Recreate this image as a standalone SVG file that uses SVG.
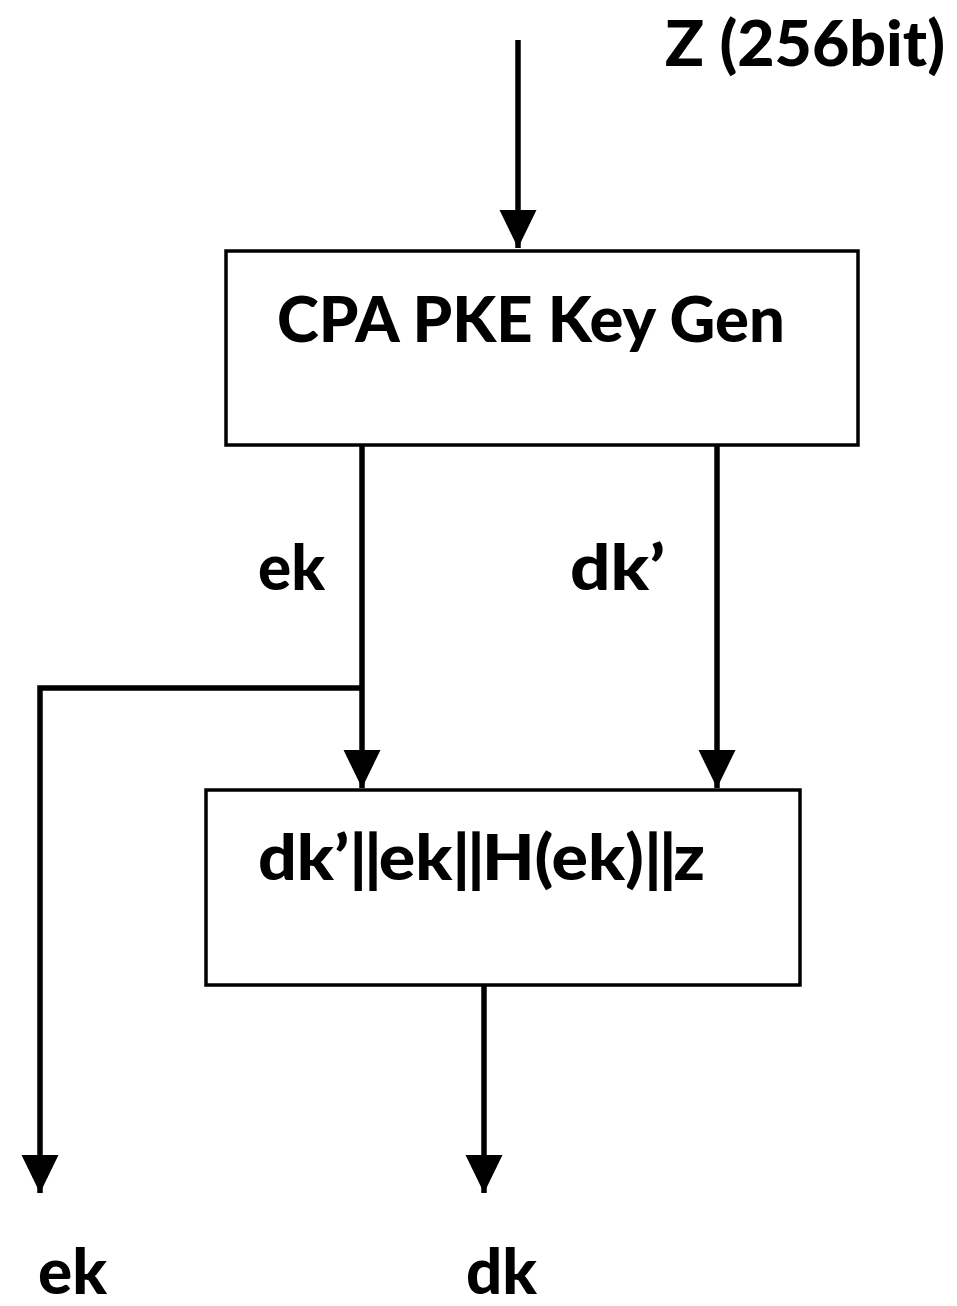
<svg xmlns="http://www.w3.org/2000/svg" width="957" height="1306" viewBox="0 0 957 1306">
<style>
.t{font-family:Lato,"Open Sans","Liberation Sans",sans-serif;font-weight:900;font-size:62px;fill:#000}
.box{fill:#fff;stroke:#000;stroke-width:3.5}
.ln{stroke:#000;stroke-width:5.5;fill:none}
</style>
<defs>
<marker id="ah" markerUnits="userSpaceOnUse" markerWidth="40" markerHeight="40" refX="38" refY="18.5" orient="auto">
<path d="M0,0 L38,18.5 L0,37 Z" fill="#000"/>
</marker>
</defs>
<rect width="957" height="1306" fill="#fff"/>
<g id="connectors">
<line class="ln" x1="518" y1="40" x2="518" y2="248" marker-end="url(#ah)"/>
<line class="ln" x1="362" y1="445" x2="362" y2="788" marker-end="url(#ah)"/>
<line class="ln" x1="717" y1="445" x2="717" y2="788" marker-end="url(#ah)"/>
<polyline class="ln" points="362,688 40,688 40,1193" marker-end="url(#ah)"/>
<line class="ln" x1="484" y1="985" x2="484" y2="1193" marker-end="url(#ah)"/>
</g>
<g id="node-keygen">
<rect class="box" x="226" y="251" width="632" height="194"/>
<text class="t" x="277" y="342" textLength="508" lengthAdjust="spacingAndGlyphs">CPA PKE Key Gen</text>
</g>
<g id="node-concat">
<rect class="box" x="206" y="790" width="594" height="195"/>
<text class="t" x="258" y="880" textLength="447" lengthAdjust="spacingAndGlyphs">dk’<tspan letter-spacing="-3">||</tspan>ek<tspan letter-spacing="-3">||</tspan>H(ek)<tspan letter-spacing="-3">||</tspan>z</text>
</g>
<g id="labels">
<text class="t" x="665" y="66" textLength="280" lengthAdjust="spacingAndGlyphs">Z (256bit)</text>
<text class="t" x="258" y="590" textLength="67" lengthAdjust="spacingAndGlyphs">ek</text>
<text class="t" x="570" y="590" textLength="95" lengthAdjust="spacingAndGlyphs">dk’</text>
<text class="t" x="38" y="1294" textLength="69" lengthAdjust="spacingAndGlyphs">ek</text>
<text class="t" x="466" y="1294" textLength="71" lengthAdjust="spacingAndGlyphs">dk</text>
</g>
</svg>
